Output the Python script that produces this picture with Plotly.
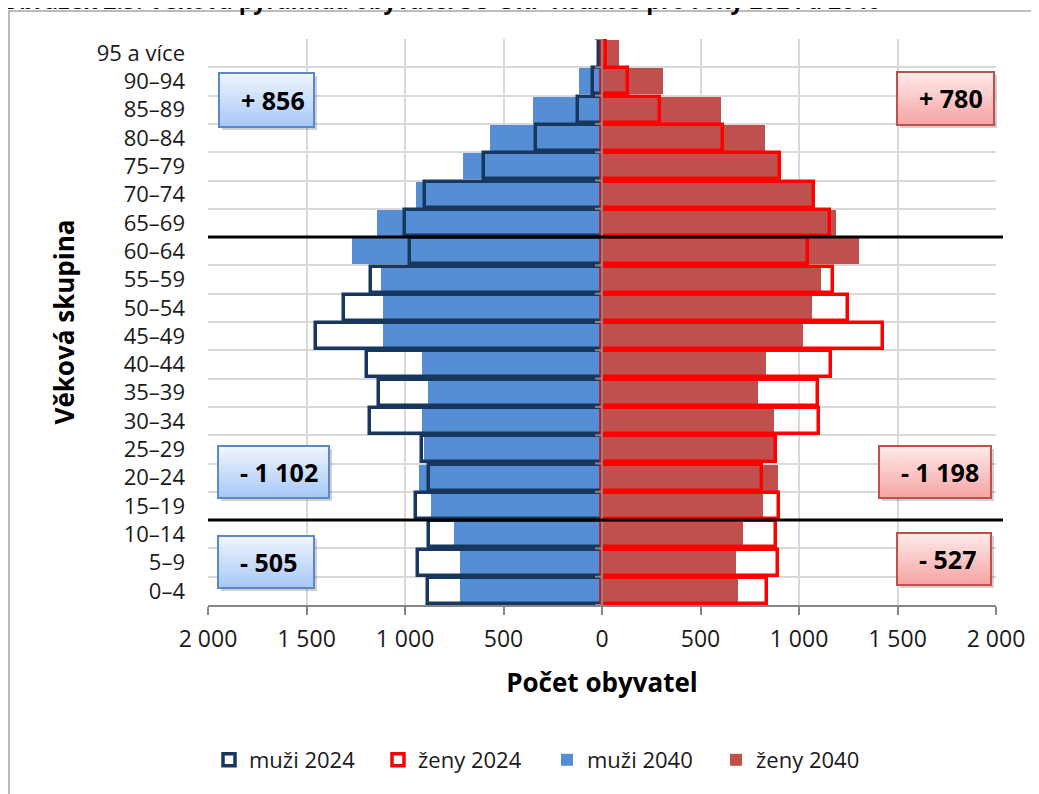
import plotly.graph_objects as go

# ---------------- data ----------------
age_groups = ['0–4', '5–9', '10–14', '15–19', '20–24', '25–29', '30–34', '35–39',
              '40–44', '45–49', '50–54', '55–59', '60–64', '65–69', '70–74', '75–79',
              '80–84', '85–89', '90–94', '95 a více']

men_2024 = [885, 936, 880, 944, 880, 915, 1178, 1134, 1193, 1452,
            1310, 1173, 975, 1000, 898, 599, 335, 123, 47, 15]
men_2040 = [721, 721, 751, 868, 931, 904, 914, 885, 914, 1113,
            1113, 1122, 1269, 1144, 944, 707, 569, 352, 117, 20]
women_2024 = [839, 895, 885, 900, 812, 885, 1102, 1097, 1160, 1427,
              1249, 1173, 1046, 1155, 1077, 905, 614, 295, 130, 20]
women_2040 = [690, 682, 716, 819, 895, 875, 873, 792, 834, 1020,
              1068, 1114, 1307, 1190, 1070, 895, 829, 605, 309, 87]

x_tickvals = [-2000, -1500, -1000, -500, 0, 500, 1000, 1500, 2000]
x_ticktext = ['2 000', '1 500', '1 000', '500', '0', '500', '1 000', '1 500', '2 000']

box_labels_men = ['+ 856', '- 1 102', '- 505']
box_labels_women = ['+ 780', '- 1 198', '- 527']
separator_positions = [2.5, 12.5]   # boundaries 10–14|15–19 and 60–64|65–69

title_text = 'Obrázek 2.5: Věková pyramida obyvatel SO ORP Hranice pro roky 2024 a 2040'

# ---------------- styles ----------------
FONT = 'Open Sans'
C_MEN_FILL = '#558ED5'
C_WOMEN_FILL = '#C0504D'
C_MEN_LINE = '#17375E'
C_WOMEN_LINE = '#FF0000'
GRID = '#D9D9D9'
AXIS = '#868686'

# page has an 8px body margin, so the figure is drawn 8px smaller and all
# positions below are given in page pixels, converted to figure pixels.
OFF = 8
W_FIG, H_FIG = 1039 - OFF, 794 - OFF
L, R, T, B = 208, 996, 39, 605          # plot area in page pixels
PW, PH = R - L, B - T


def px2x(px):
    return (px - L) / PW


def py2y(py):
    return (B - py) / PH


fig = go.Figure()

bw = 0.92
fig.add_trace(go.Bar(y=age_groups, x=[-v for v in men_2040], orientation='h', name='muži 2040',
                     marker=dict(color=C_MEN_FILL, line=dict(width=0)), width=bw, legendrank=3))
fig.add_trace(go.Bar(y=age_groups, x=women_2040, orientation='h', name='ženy 2040',
                     marker=dict(color=C_WOMEN_FILL, line=dict(width=0)), width=bw, legendrank=4))
fig.add_trace(go.Bar(y=age_groups, x=[-v for v in men_2024], orientation='h', name='muži 2024',
                     marker=dict(color='rgba(0,0,0,0)', line=dict(color=C_MEN_LINE, width=3.5)),
                     width=bw, legendrank=1))
fig.add_trace(go.Bar(y=age_groups, x=women_2024, orientation='h', name='ženy 2024',
                     marker=dict(color='rgba(0,0,0,0)', line=dict(color=C_WOMEN_LINE, width=3.5)),
                     width=bw, legendrank=2))

shapes = []

# outer frame
shapes.append(dict(type='rect', xref='paper', yref='paper',
                   x0=px2x(9), x1=px2x(1060), y0=py2y(11), y1=py2y(820),
                   line=dict(color='#A6A6A6', width=1.5), fillcolor='rgba(0,0,0,0)', layer='below'))

# center axis line
shapes.append(dict(type='line', xref='x', yref='paper', x0=0, x1=0, y0=0, y1=1,
                   line=dict(color=AXIS, width=2), layer='above'))
# small ticks on the center axis (category boundaries)
for k in range(len(age_groups) + 1):
    shapes.append(dict(type='line', xref='paper', yref='y', x0=0.5 - 7 / PW, x1=0.5,
                       y0=k - 0.5, y1=k - 0.5, line=dict(color=AXIS, width=2), layer='above'))

# separator lines
for yv in separator_positions:
    shapes.append(dict(type='line', xref='paper', yref='y', x0=0, x1=px2x(1003),
                       y0=yv, y1=yv, line=dict(color='black', width=3), layer='above'))


def lerp_color(c1, c2, t):
    a = [int(c1[i:i + 2], 16) for i in (1, 3, 5)]
    b = [int(c2[i:i + 2], 16) for i in (1, 3, 5)]
    return '#%02x%02x%02x' % tuple(round(a[i] + (b[i] - a[i]) * t) for i in range(3))


annotations = []


def add_box(x0, x1, y0, y1, top, bottom, border, text, tx0, tx1):
    # shadow
    shapes.append(dict(type='rect', xref='paper', yref='paper',
                       x0=px2x(x0 + 3), x1=px2x(x1 + 3), y0=py2y(y1 + 3), y1=py2y(y0 + 3),
                       fillcolor='rgba(0,0,0,0.18)', line=dict(width=0), layer='above'))
    n = 14
    for i in range(n):
        ya = y0 + (y1 - y0) * i / n
        yb = y0 + (y1 - y0) * (i + 1) / n
        shapes.append(dict(type='rect', xref='paper', yref='paper',
                           x0=px2x(x0), x1=px2x(x1), y0=py2y(yb + 0.5), y1=py2y(ya),
                           fillcolor=lerp_color(top, bottom, i / (n - 1)),
                           line=dict(width=0), layer='above'))
    shapes.append(dict(type='rect', xref='paper', yref='paper',
                       x0=px2x(x0), x1=px2x(x1), y0=py2y(y1), y1=py2y(y0),
                       fillcolor='rgba(0,0,0,0)', line=dict(color=border, width=2), layer='above'))
    annotations.append(dict(xref='paper', yref='paper', x=px2x((tx0 + tx1) / 2),
                            y=py2y((y0 + y1) / 2), text='<b>%s</b>' % text, showarrow=False,
                            xanchor='center', yanchor='middle',
                            font=dict(family=FONT, size=25, color='black')))


BLUE_TOP, BLUE_BOT, BLUE_BORDER = '#EEF4FD', '#A9C9F7', '#5A88C8'
PINK_TOP, PINK_BOT, PINK_BORDER = '#FFE8E8', '#F6A6A6', '#C0504D'

add_box(219, 314, 73, 127, BLUE_TOP, BLUE_BOT, BLUE_BORDER, box_labels_men[0], 238, 307)
add_box(218, 329, 446, 498, BLUE_TOP, BLUE_BOT, BLUE_BORDER, box_labels_men[1], 238, 320)
add_box(218, 314, 536, 588, BLUE_TOP, BLUE_BOT, BLUE_BORDER, box_labels_men[2], 238, 298)
add_box(897, 994, 72, 125, PINK_TOP, PINK_BOT, PINK_BORDER, box_labels_women[0], 917, 985)
add_box(879, 991, 446, 498, PINK_TOP, PINK_BOT, PINK_BORDER, box_labels_women[1], 898, 981)
add_box(897, 991, 533, 585, PINK_TOP, PINK_BOT, PINK_BORDER, box_labels_women[2], 917, 977)

# title at the very top (clipped by the page edge, as in the reference)
annotations.append(dict(xref='paper', yref='paper', x=px2x(-1), y=py2y(18), xanchor='left',
                        yanchor='bottom', showarrow=False, text='<b>%s</b>' % title_text,
                        font=dict(family=FONT, size=23, color='black')))

fig.update_layout(
    width=W_FIG, height=H_FIG,
    margin=dict(l=L - OFF, r=W_FIG - (R - OFF), t=T - OFF, b=H_FIG - (B - OFF), autoexpand=False),
    paper_bgcolor='white', plot_bgcolor='white',
    barmode='overlay', bargap=0,
    font=dict(family=FONT, color='black'),
    showlegend=True,
    legend=dict(orientation='h', x=px2x(547), y=py2y(760), xanchor='center', yanchor='middle',
                font=dict(family=FONT, size=22, color='#1a1a1a'), traceorder='normal',
                itemwidth=30, entrywidth=124, entrywidthmode='pixels',
                bgcolor='rgba(0,0,0,0)'),
    xaxis=dict(range=[-2000, 2000], tickvals=x_tickvals, ticktext=x_ticktext,
               showgrid=True, gridcolor=GRID, gridwidth=2, zeroline=False,
               showline=True, linecolor=AXIS, linewidth=2,
               ticks='outside', ticklen=8, tickwidth=2, tickcolor=AXIS,
               tickfont=dict(family=FONT, size=23, color='#1a1a1a'), ticklabelstandoff=4,
               title=dict(text='<b>Počet obyvatel</b>', standoff=21,
                          font=dict(family=FONT, size=26, color='black'))),
    yaxis=dict(type='category', categoryorder='array', categoryarray=age_groups,
               range=[-0.5, len(age_groups) - 0.5], tickson='boundaries',
               showgrid=True, gridcolor=GRID, gridwidth=2, zeroline=False,
               showline=False, ticks='', ticklabelstandoff=22,
               tickfont=dict(family=FONT, size=22, color='#1a1a1a'),
               title=dict(text='<b>Věková skupina</b>', standoff=14,
                          font=dict(family=FONT, size=26, color='black'))),
    shapes=shapes,
    annotations=annotations,
)

fig.write_html('out.html')
